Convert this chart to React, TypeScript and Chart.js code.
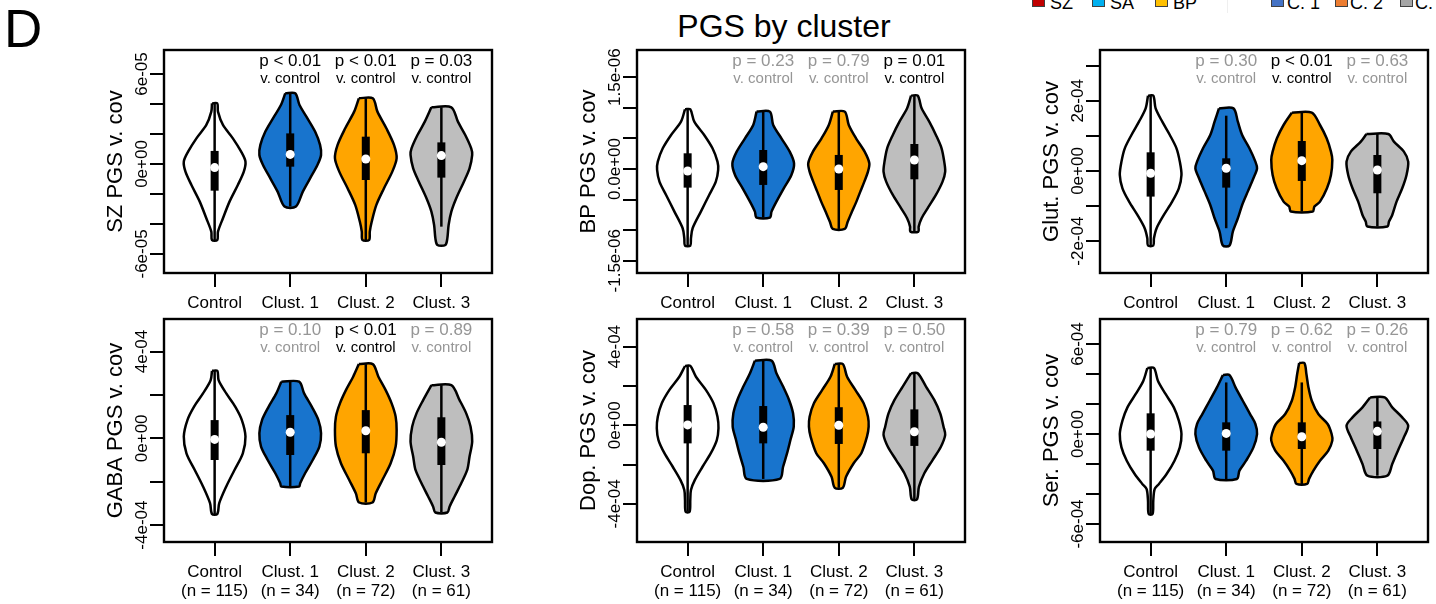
import React, { useEffect, useRef } from "react";
import { Chart, registerables } from "chart.js";

Chart.register(...registerables);

const FONT = '"Liberation Sans", Arial, Helvetica, sans-serif';

// ---------- shared categories ----------
const groupLabels = ["Control", "Clust. 1", "Clust. 2", "Clust. 3"];
const groupCounts = ["(n = 115)", "(n = 34)", "(n = 72)", "(n = 61)"];
const groupColors = ["#FFFFFF", "#1874CD", "#FFA500", "#BEBEBE"];
const groupPositions = [1, 2, 3, 4];
const xRange = [0.33, 4.67];

// ---------- legend (top right, cropped) ----------
const legendLabels = ["SZ", "SA", "BP", "C. 1", "C. 2", "C. 3"];
const legendColors = ["#C00000", "#00B0F0", "#FFC000", "#4472C4", "#ED7D31", "#A5A5A5"];

// ---------- SZ panel ----------
const szTitle = "SZ PGS v. cov";
const szRange = [-7.27e-5, 7.6e-5];
const szTicks = [-6e-5, -4e-5, -2e-5, 0, 2e-5, 4e-5, 6e-5];
const szTickValues = [-6e-5, 0, 6e-5];
const szTickTexts = ["-6e-05", "0e+00", "6e-05"];
const szCtrl = [[4.04e-5, 0.035], [3.49e-5, 0.044], [2.6e-5, 0.11], [1.71e-5, 0.241], [0.82e-5, 0.351], [0.16e-5, 0.408], [-0.51e-5, 0.386], [-1.4e-5, 0.307], [-2.51e-5, 0.197], [-3.62e-5, 0.11], [-4.51e-5, 0.044], [-5.07e-5, 0.035]];
const szC1 = [[4.71e-5, 0.066], [3.93e-5, 0.123], [3.04e-5, 0.228], [2.16e-5, 0.329], [1.27e-5, 0.395], [0.6e-5, 0.408], [-0.07e-5, 0.36], [-0.96e-5, 0.263], [-1.84e-5, 0.167], [-2.84e-5, 0.075]];
const szC2 = [[4.38e-5, 0.092], [3.49e-5, 0.154], [2.38e-5, 0.272], [1.27e-5, 0.373], [0.38e-5, 0.408], [-0.51e-5, 0.351], [-1.62e-5, 0.241], [-2.73e-5, 0.14], [-3.84e-5, 0.079], [-4.51e-5, 0.053], [-5.07e-5, 0.044]];
const szC3 = [[3.78e-5, 0.132], [2.82e-5, 0.219], [1.93e-5, 0.316], [1.04e-5, 0.395], [0.6e-5, 0.408], [-0.29e-5, 0.373], [-1.18e-5, 0.298], [-2.29e-5, 0.197], [-3.18e-5, 0.132], [-4.07e-5, 0.096], [-4.96e-5, 0.079], [-5.4e-5, 0.053]];
const szQ1 = [-1.78e-5, -0.18e-5, -1.07e-5, -0.91e-5];
const szMed = [-0.24e-5, 0.64e-5, 0.33e-5, 0.56e-5];
const szQ3 = [0.87e-5, 2.04e-5, 1.82e-5, 1.44e-5];
const szLo = [-5.07e-5, -2.84e-5, -5.07e-5, -4.18e-5];
const szHi = [4.04e-5, 4.71e-5, 4.38e-5, 3.78e-5];
const szP = ["", "p < 0.01", "p < 0.01", "p = 0.03"];
const szSig = [false, true, true, true];

// ---------- BP panel ----------
const bpTitle = "BP PGS v. cov";
const bpRange = [-1.7e-6, 1.944e-6];
const bpTicks = [-1.5e-6, -1e-6, -0.5e-6, 0, 0.5e-6, 1e-6, 1.5e-6];
const bpTickValues = [-1.5e-6, 0, 1.5e-6];
const bpTickTexts = ["-1.5e-06", "0.0e+00", "1.5e-06"];
const bpCtrl = [[0.975e-6, 0.035], [0.773e-6, 0.088], [0.556e-6, 0.219], [0.338e-6, 0.329], [0.12e-6, 0.395], [-0.016e-6, 0.404], [-0.207e-6, 0.373], [-0.425e-6, 0.285], [-0.697e-6, 0.175], [-0.969e-6, 0.066], [-1.133e-6, 0.044], [-1.253e-6, 0.035]];
const bpC1 = [[0.937e-6, 0.088], [0.719e-6, 0.132], [0.501e-6, 0.241], [0.283e-6, 0.351], [0.093e-6, 0.408], [-0.098e-6, 0.373], [-0.316e-6, 0.272], [-0.534e-6, 0.175], [-0.697e-6, 0.11], [-0.795e-6, 0.088]];
const bpC2 = [[0.937e-6, 0.079], [0.719e-6, 0.132], [0.501e-6, 0.228], [0.283e-6, 0.342], [0.093e-6, 0.404], [-0.044e-6, 0.386], [-0.207e-6, 0.338], [-0.37e-6, 0.285], [-0.534e-6, 0.233], [-0.697e-6, 0.175], [-0.861e-6, 0.118], [-0.98e-6, 0.079]];
const bpC3 = [[1.198e-6, 0.044], [0.991e-6, 0.096], [0.773e-6, 0.197], [0.556e-6, 0.285], [0.338e-6, 0.36], [0.12e-6, 0.395], [-0.044e-6, 0.408], [-0.207e-6, 0.373], [-0.425e-6, 0.285], [-0.643e-6, 0.175], [-0.806e-6, 0.096], [-0.942e-6, 0.057], [-1.024e-6, 0.053]];
const bpQ1 = [-0.305e-6, -0.261e-6, -0.343e-6, -0.169e-6];
const bpMed = [-0.033e-6, 0.038e-6, 0, 0.147e-6];
const bpQ3 = [0.256e-6, 0.31e-6, 0.229e-6, 0.408e-6];
const bpLo = [-1.253e-6, -0.795e-6, -0.98e-6, -1.024e-6];
const bpHi = [0.975e-6, 0.937e-6, 0.937e-6, 1.198e-6];
const bpP = ["", "p = 0.23", "p = 0.79", "p = 0.01"];
const bpSig = [false, false, false, true];

// ---------- Glut. panel ----------
const glTitle = "Glut. PGS v. cov";
const glRange = [-2.91e-4, 3.45e-4];
const glTicks = [-2e-4, -1e-4, 0, 1e-4, 2e-4, 3e-4];
const glTickValues = [-2e-4, 0, 2e-4];
const glTickTexts = ["-2e-04", "0e+00", "2e-04"];
const glCtrl = [[2.146e-4, 0.035], [1.785e-4, 0.066], [1.405e-4, 0.154], [1.026e-4, 0.254], [0.646e-4, 0.342], [0.266e-4, 0.386], [-0.114e-4, 0.408], [-0.494e-4, 0.373], [-0.874e-4, 0.285], [-1.254e-4, 0.175], [-1.633e-4, 0.079], [-1.918e-4, 0.044], [-2.127e-4, 0.035]];
const glC1 = [[1.785e-4, 0.096], [1.405e-4, 0.154], [1.026e-4, 0.211], [0.646e-4, 0.307], [0.266e-4, 0.386], [0.076e-4, 0.408], [-0.209e-4, 0.36], [-0.589e-4, 0.285], [-0.969e-4, 0.211], [-1.349e-4, 0.154], [-1.728e-4, 0.088], [-2.127e-4, 0.044]];
const glC2 = [[1.662e-4, 0.132], [1.311e-4, 0.241], [0.931e-4, 0.329], [0.551e-4, 0.386], [0.313e-4, 0.404], [-0.114e-4, 0.386], [-0.494e-4, 0.333], [-0.874e-4, 0.241], [-1.016e-4, 0.167], [-1.158e-4, 0.145]];
const glC3 = [[1.054e-4, 0.145], [0.836e-4, 0.219], [0.551e-4, 0.351], [0.266e-4, 0.408], [-0.114e-4, 0.386], [-0.494e-4, 0.329], [-0.874e-4, 0.254], [-1.254e-4, 0.197], [-1.444e-4, 0.154], [-1.586e-4, 0.132]];
const glQ1 = [-0.731e-4, -0.475e-4, -0.285e-4, -0.636e-4];
const glMed = [-0.066e-4, 0.076e-4, 0.294e-4, 0.028e-4];
const glQ3 = [0.532e-4, 0.361e-4, 0.855e-4, 0.456e-4];
const glLo = [-2.127e-4, -1.633e-4, -1.158e-4, -1.586e-4];
const glHi = [2.146e-4, 1.576e-4, 1.662e-4, 1.054e-4];
const glP = ["", "p = 0.30", "p < 0.01", "p = 0.63"];
const glSig = [false, false, true, false];

// ---------- GABA panel ----------
const gaTitle = "GABA PGS v. cov";
const gaRange = [-4.78e-4, 5.5e-4];
const gaTicks = [-4e-4, -2e-4, 0, 2e-4, 4e-4];
const gaTickValues = [-4e-4, 0, 4e-4];
const gaTickTexts = ["-4e-04", "0e+00", "4e-04"];
const gaCtrl = [[3.11e-4, 0.035], [2.68e-4, 0.053], [2.07e-4, 0.154], [1.46e-4, 0.272], [0.84e-4, 0.36], [0.08e-4, 0.408], [-0.69e-4, 0.373], [-1.46e-4, 0.263], [-2.22e-4, 0.154], [-2.99e-4, 0.061], [-3.49e-4, 0.035]];
const gaC1 = [[2.61e-4, 0.118], [2.07e-4, 0.184], [1.46e-4, 0.285], [0.84e-4, 0.373], [0.23e-4, 0.408], [-0.38e-4, 0.386], [-1.0e-4, 0.298], [-1.61e-4, 0.197], [-2.07e-4, 0.132], [-2.22e-4, 0.118]];
const gaC2 = [[3.42e-4, 0.092], [2.84e-4, 0.167], [2.22e-4, 0.263], [1.61e-4, 0.342], [1.0e-4, 0.395], [0.38e-4, 0.408], [-0.38e-4, 0.395], [-1.15e-4, 0.329], [-1.92e-4, 0.219], [-2.53e-4, 0.132], [-2.96e-4, 0.088]];
const gaC3 = [[2.45e-4, 0.132], [1.76e-4, 0.241], [1.15e-4, 0.329], [0.54e-4, 0.386], [-0.15e-4, 0.408], [-0.84e-4, 0.373], [-1.46e-4, 0.342], [-2.07e-4, 0.263], [-2.68e-4, 0.175], [-3.14e-4, 0.11], [-3.42e-4, 0.079]];
const gaQ1 = [-1.0e-4, -0.77e-4, -0.69e-4, -1.23e-4];
const gaMed = [-0.05e-4, 0.28e-4, 0.35e-4, -0.18e-4];
const gaQ3 = [0.84e-4, 1.07e-4, 1.3e-4, 0.97e-4];
const gaLo = [-3.49e-4, -2.22e-4, -2.96e-4, -3.42e-4];
const gaHi = [3.11e-4, 2.61e-4, 3.42e-4, 2.45e-4];
const gaP = ["", "p = 0.10", "p < 0.01", "p = 0.89"];
const gaSig = [false, false, true, false];

// ---------- Dop. panel ----------
const doTitle = "Dop. PGS v. cov";
const doRange = [-5.94e-4, 5.41e-4];
const doTicks = [-4e-4, -2e-4, 0, 2e-4, 4e-4];
const doTickValues = [-4e-4, 0, 4e-4];
const doTickTexts = ["-4e-04", "0e+00", "4e-04"];
const doCtrl = [[3.02e-4, 0.035], [2.47e-4, 0.11], [1.8e-4, 0.241], [1.12e-4, 0.342], [0.44e-4, 0.395], [-0.15e-4, 0.408], [-0.75e-4, 0.386], [-1.42e-4, 0.307], [-2.11e-4, 0.197], [-2.78e-4, 0.096], [-3.29e-4, 0.044], [-3.8e-4, 0.035], [-4.4e-4, 0.026]];
const doC1 = [[3.29e-4, 0.11], [2.65e-4, 0.175], [1.97e-4, 0.263], [1.29e-4, 0.342], [0.61e-4, 0.395], [-0.07e-4, 0.404], [-0.75e-4, 0.36], [-1.42e-4, 0.316], [-2.11e-4, 0.263], [-2.73e-4, 0.219]];
const doC2 = [[3.12e-4, 0.053], [2.47e-4, 0.11], [1.8e-4, 0.219], [1.12e-4, 0.329], [0.44e-4, 0.386], [-0.07e-4, 0.395], [-0.58e-4, 0.373], [-1.42e-4, 0.298], [-1.93e-4, 0.197], [-2.62e-4, 0.096], [-3.18e-4, 0.053]];
const doC3 = [[2.65e-4, 0.044], [1.97e-4, 0.154], [1.29e-4, 0.263], [0.61e-4, 0.342], [-0.07e-4, 0.386], [-0.49e-4, 0.408], [-1.09e-4, 0.351], [-1.77e-4, 0.241], [-2.44e-4, 0.132], [-3.12e-4, 0.061], [-3.77e-4, 0.035]];
const doQ1 = [-0.92e-4, -0.92e-4, -0.95e-4, -1.05e-4];
const doMed = [0.02e-4, -0.1e-4, 0, -0.33e-4];
const doQ3 = [1.03e-4, 0.98e-4, 0.92e-4, 0.81e-4];
const doLo = [-4.4e-4, -2.73e-4, -3.18e-4, -3.77e-4];
const doHi = [3.02e-4, 3.29e-4, 3.12e-4, 2.65e-4];
const doP = ["", "p = 0.58", "p = 0.39", "p = 0.50"];
const doSig = [false, false, false, false];

// ---------- Ser. panel ----------
const seTitle = "Ser. PGS v. cov";
const seRange = [-7.2e-4, 7.67e-4];
const seTicks = [-6e-4, -4e-4, -2e-4, 0, 2e-4, 4e-4, 6e-4];
const seTickValues = [-6e-4, 0, 6e-4];
const seTickTexts = ["-6e-04", "0e+00", "6e-04"];
const seCtrl = [[4.4e-4, 0.044], [3.56e-4, 0.096], [2.67e-4, 0.197], [1.78e-4, 0.307], [0.89e-4, 0.373], [0, 0.408], [-0.89e-4, 0.386], [-1.78e-4, 0.316], [-2.67e-4, 0.211], [-3.33e-4, 0.11], [-3.67e-4, 0.053], [-4.44e-4, 0.035], [-5.33e-4, 0.026]];
const seC1 = [[3.93e-4, 0.044], [3.11e-4, 0.123], [2.22e-4, 0.219], [1.33e-4, 0.316], [0.67e-4, 0.386], [0, 0.408], [-0.89e-4, 0.36], [-1.78e-4, 0.263], [-2.44e-4, 0.175], [-3.0e-4, 0.14]];
const seC2 = [[4.73e-4, 0.035], [4.0e-4, 0.061], [3.11e-4, 0.088], [2.22e-4, 0.132], [1.33e-4, 0.219], [0.67e-4, 0.342], [0, 0.395], [-0.44e-4, 0.404], [-1.11e-4, 0.351], [-1.78e-4, 0.241], [-2.44e-4, 0.154], [-2.99e-4, 0.096], [-3.33e-4, 0.07]];
const seC3 = [[2.44e-4, 0.096], [1.78e-4, 0.197], [1.11e-4, 0.329], [0.56e-4, 0.408], [-0.22e-4, 0.351], [-1.11e-4, 0.272], [-2.0e-4, 0.197], [-2.78e-4, 0.132]];
const seQ1 = [-1.11e-4, -1.11e-4, -1.0e-4, -1.0e-4];
const seMed = [0, 0.04e-4, -0.18e-4, 0.18e-4];
const seQ3 = [1.38e-4, 0.78e-4, 0.78e-4, 0.84e-4];
const seLo = [-5.33e-4, -3.0e-4, -3.33e-4, -2.78e-4];
const seHi = [4.4e-4, 3.44e-4, 3.44e-4, 2.44e-4];
const seP = ["", "p = 0.79", "p = 0.62", "p = 0.26"];
const seSig = [false, false, false, false];

// ---------- layout ----------
const colLefts = [164, 637, 1100];
const rowTops = [50, 319];
const BOX_W = 328;
const BOX_H = 223;
const PAD_L = 130;
const PAD_T = 8;
const PAD_R = 8;
const PAD_B = 70;

type Panel = {
  title: string;
  col: number;
  row: number;
  range: number[];
  ticks: number[];
  tickValues: number[];
  tickTexts: string[];
  violins: number[][][];
  q1: number[];
  med: number[];
  q3: number[];
  lo: number[];
  hi: number[];
  pText: string[];
  pSig: boolean[];
  showCounts: boolean;
};

const panels: Panel[] = [
  { title: szTitle, col: 0, row: 0, range: szRange, ticks: szTicks, tickValues: szTickValues, tickTexts: szTickTexts, violins: [szCtrl, szC1, szC2, szC3], q1: szQ1, med: szMed, q3: szQ3, lo: szLo, hi: szHi, pText: szP, pSig: szSig, showCounts: false },
  { title: bpTitle, col: 1, row: 0, range: bpRange, ticks: bpTicks, tickValues: bpTickValues, tickTexts: bpTickTexts, violins: [bpCtrl, bpC1, bpC2, bpC3], q1: bpQ1, med: bpMed, q3: bpQ3, lo: bpLo, hi: bpHi, pText: bpP, pSig: bpSig, showCounts: false },
  { title: glTitle, col: 2, row: 0, range: glRange, ticks: glTicks, tickValues: glTickValues, tickTexts: glTickTexts, violins: [glCtrl, glC1, glC2, glC3], q1: glQ1, med: glMed, q3: glQ3, lo: glLo, hi: glHi, pText: glP, pSig: glSig, showCounts: false },
  { title: gaTitle, col: 0, row: 1, range: gaRange, ticks: gaTicks, tickValues: gaTickValues, tickTexts: gaTickTexts, violins: [gaCtrl, gaC1, gaC2, gaC3], q1: gaQ1, med: gaMed, q3: gaQ3, lo: gaLo, hi: gaHi, pText: gaP, pSig: gaSig, showCounts: true },
  { title: doTitle, col: 1, row: 1, range: doRange, ticks: doTicks, tickValues: doTickValues, tickTexts: doTickTexts, violins: [doCtrl, doC1, doC2, doC3], q1: doQ1, med: doMed, q3: doQ3, lo: doLo, hi: doHi, pText: doP, pSig: doSig, showCounts: true },
  { title: seTitle, col: 2, row: 1, range: seRange, ticks: seTicks, tickValues: seTickValues, tickTexts: seTickTexts, violins: [seCtrl, seC1, seC2, seC3], q1: seQ1, med: seMed, q3: seQ3, lo: seLo, hi: seHi, pText: seP, pSig: seSig, showCounts: true },
];

function violinOutline(center: number, profile: number[][]) {
  const left = profile.map(([y, w]) => ({ x: center - w, y }));
  const right = profile
    .slice()
    .reverse()
    .map(([y, w]) => ({ x: center + w, y }));
  return [...left, ...right, left[0]];
}

function decorPlugin(p: Panel) {
  return {
    id: "panelDecor",
    afterDraw(chart: any) {
      const { ctx, chartArea: a, scales } = chart;
      const xs = scales.x;
      const ys = scales.y;
      ctx.save();
      ctx.strokeStyle = "#000";
      ctx.lineWidth = 2.4;
      ctx.strokeRect(a.left, a.top, a.right - a.left, a.bottom - a.top);

      ctx.fillStyle = "#000";
      ctx.textAlign = "center";
      ctx.textBaseline = "alphabetic";
      ctx.font = `17px ${FONT}`;
      p.tickValues.forEach((v, i) => {
        const y = ys.getPixelForValue(v);
        ctx.save();
        ctx.translate(a.left - 17, y);
        ctx.rotate(-Math.PI / 2);
        ctx.fillText(p.tickTexts[i], 0, 0);
        ctx.restore();
      });

      ctx.font = `22px ${FONT}`;
      ctx.save();
      ctx.translate(a.left - 42, (a.top + a.bottom) / 2);
      ctx.rotate(-Math.PI / 2);
      ctx.fillText(p.title, 0, 0);
      ctx.restore();

      groupPositions.forEach((g, i) => {
        const x = xs.getPixelForValue(g);
        ctx.fillStyle = "#000";
        ctx.font = `17px ${FONT}`;
        ctx.fillText(groupLabels[i], x, a.bottom + 35);
        if (p.showCounts) ctx.fillText(groupCounts[i], x, a.bottom + 54);
        if (p.pText[i]) {
          ctx.fillStyle = p.pSig[i] ? "#000" : "#969696";
          ctx.font = `17px ${FONT}`;
          ctx.fillText(p.pText[i], x, a.top + 16);
          ctx.font = `15px ${FONT}`;
          ctx.fillText("v. control", x, a.top + 33);
        }
      });
      ctx.restore();
    },
  };
}

function buildConfig(p: Panel): any {
  const datasets: any[] = [];
  p.violins.forEach((profile, i) => {
    datasets.push({
      data: violinOutline(groupPositions[i], profile),
      borderColor: "#000",
      borderWidth: 2.5,
      backgroundColor: groupColors[i],
      fill: "shape",
      pointRadius: 0,
      tension: 0.3,
      order: 4,
    });
    datasets.push({
      data: [
        { x: groupPositions[i], y: p.lo[i] },
        { x: groupPositions[i], y: p.hi[i] },
      ],
      borderColor: "#000",
      borderWidth: 2.5,
      pointRadius: 0,
      fill: false,
      order: 3,
    });
    datasets.push({
      data: [
        { x: groupPositions[i], y: p.q1[i] },
        { x: groupPositions[i], y: p.q3[i] },
      ],
      borderColor: "#000",
      borderWidth: 8,
      borderCapStyle: "butt",
      pointRadius: 0,
      fill: false,
      order: 2,
    });
  });
  datasets.push({
    data: groupPositions.map((g, i) => ({ x: g, y: p.med[i] })),
    showLine: false,
    pointRadius: 4.5,
    pointBackgroundColor: "#FFFFFF",
    pointBorderWidth: 0,
    pointBorderColor: "#FFFFFF",
    order: 1,
  });

  const gridOpts = {
    display: true,
    drawOnChartArea: false,
    drawTicks: true,
    tickLength: 14,
    color: "#000",
    lineWidth: 2,
  };

  return {
    type: "line",
    data: { datasets },
    options: {
      animation: false,
      responsive: false,
      maintainAspectRatio: false,
      events: [],
      layout: { padding: { left: 0, top: PAD_T, right: PAD_R, bottom: 0 } },
      plugins: {
        legend: { display: false },
        tooltip: { enabled: false },
        colors: { enabled: false },
      },
      scales: {
        x: {
          type: "linear",
          min: xRange[0],
          max: xRange[1],
          afterBuildTicks: (s: any) => {
            s.ticks = groupPositions.map((v) => ({ value: v }));
          },
          afterFit: (s: any) => {
            s.height = PAD_B;
          },
          ticks: { display: false },
          grid: gridOpts,
          border: { display: false },
        },
        y: {
          type: "linear",
          min: p.range[0],
          max: p.range[1],
          afterBuildTicks: (s: any) => {
            s.ticks = p.ticks.map((v) => ({ value: v }));
          },
          afterFit: (s: any) => {
            s.width = PAD_L;
          },
          ticks: { display: false },
          grid: gridOpts,
          border: { display: false },
        },
      },
    },
    plugins: [decorPlugin(p)],
  };
}

function PanelChart({ panel }: { panel: Panel }) {
  const ref = useRef<HTMLCanvasElement>(null);
  const W = PAD_L + BOX_W + PAD_R;
  const H = PAD_T + BOX_H + PAD_B;
  useEffect(() => {
    if (!ref.current) return;
    const chart = new Chart(ref.current, buildConfig(panel));
    return () => chart.destroy();
  }, [panel]);
  return (
    <div
      style={{
        position: "absolute",
        left: colLefts[panel.col] - PAD_L,
        top: rowTops[panel.row] - PAD_T,
        width: W,
        height: H,
      }}
    >
      <canvas ref={ref} width={W} height={H} style={{ display: "block", width: W, height: H }} />
    </div>
  );
}

const legendSquareX = [1032, 1092, 1155, 1271, 1335, 1400];
const legendTextX = [1050, 1110, 1173, 1287, 1350, 1415];

export default function App() {
  return (
    <div
      style={{
        position: "absolute",
        left: 0,
        top: 0,
        width: 1436,
        height: 604,
        overflow: "hidden",
        background: "#FFFFFF",
        fontFamily: FONT,
      }}
    >
      <div style={{ position: "absolute", left: 4, top: 2, fontSize: 53, lineHeight: "53px", color: "#000" }}>D</div>
      <div
        style={{
          position: "absolute",
          left: 584,
          top: 10,
          width: 400,
          textAlign: "center",
          fontSize: 32,
          lineHeight: "32px",
          color: "#000",
        }}
      >
        PGS by cluster
      </div>
      <div style={{ position: "absolute", left: 1227, top: 0, width: 1, height: 13, background: "#EFEFEF" }} />
      {legendLabels.map((lab, i) => (
        <React.Fragment key={lab}>
          <div
            style={{
              position: "absolute",
              left: legendSquareX[i],
              top: -6,
              width: 11,
              height: 11,
              background: legendColors[i],
              border: "1px solid #404040",
            }}
          />
          <div
            style={{
              position: "absolute",
              left: legendTextX[i],
              top: -6,
              fontSize: 18,
              lineHeight: "18px",
              color: "#000",
              whiteSpace: "nowrap",
            }}
          >
            {lab}
          </div>
        </React.Fragment>
      ))}
      {panels.map((p) => (
        <PanelChart key={p.title} panel={p} />
      ))}
    </div>
  );
}
